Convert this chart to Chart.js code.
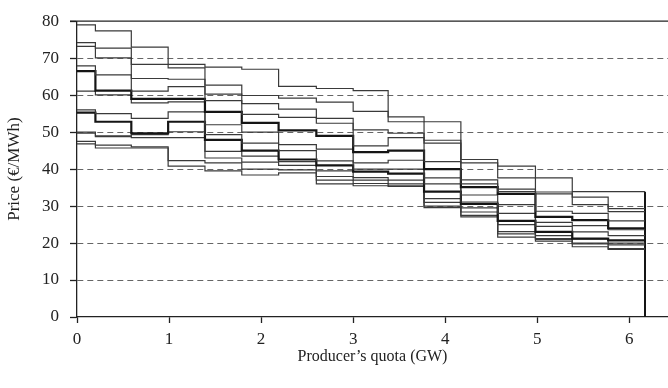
<!DOCTYPE html>
<html>
<head>
<meta charset="utf-8">
<script src="https://cdn.jsdelivr.net/npm/chart.js@4.4.1/dist/chart.umd.min.js"></script>
<style>
  html, body { margin: 0; padding: 0; background: #fff; }
  #wrap { width: 668px; height: 388px; position: relative; }
</style>
</head>
<body>
<div id="wrap"><canvas id="chart"></canvas></div>
<script>
// ── data ──────────────────────────────────────────────
// quota breakpoints (GW): price level i holds from quota[i] to quota[i+1]
const quota = [0, 0.2, 0.59, 0.99, 1.39, 1.79, 2.19, 2.6, 3.0, 3.38, 3.77, 4.17, 4.57, 4.98, 5.38, 5.77, 6.17];

// price steps (€/MWh), one array per scenario
const s1  = [79.0, 77.4, 73.0, 68.3, 67.6, 67.0, 62.4, 61.8, 61.2, 54.1, 52.8, 42.6, 40.8, 37.6, 33.9, 33.9];
const s2  = [74.2, 72.7, 68.3, 67.4, 62.7, 59.9, 59.2, 58.1, 55.6, 52.8, 47.8, 41.7, 37.6, 33.8, 32.4, 29.3];
const s3  = [73.2, 70.1, 64.5, 64.3, 60.3, 57.7, 56.2, 53.7, 50.6, 49.7, 47.0, 37.1, 34.6, 33.3, 30.4, 28.5];
const s4  = [67.9, 65.5, 61.1, 62.3, 58.5, 54.8, 54.0, 52.4, 46.3, 48.5, 42.0, 36.0, 33.9, 28.6, 28.0, 26.0];
const s5  = [66.5, 61.2, 59.0, 59.0, 55.5, 52.5, 50.5, 49.0, 44.6, 45.0, 40.0, 35.1, 33.3, 27.1, 26.2, 24.0];
const s6  = [61.1, 60.1, 57.9, 58.2, 52.0, 50.0, 46.6, 45.4, 41.7, 42.4, 37.6, 33.0, 30.4, 25.6, 24.7, 23.6];
const s7  = [56.0, 55.0, 53.7, 55.5, 49.3, 47.0, 45.0, 42.2, 40.0, 40.0, 36.0, 31.1, 28.0, 24.5, 23.0, 22.0];
const s8  = [55.3, 52.8, 49.7, 52.8, 47.9, 45.0, 42.6, 41.0, 39.3, 38.8, 33.9, 30.6, 26.0, 23.0, 21.2, 20.7];
const s9  = [50.0, 49.0, 49.3, 50.1, 44.8, 43.5, 42.0, 39.5, 37.7, 37.0, 32.0, 29.5, 25.0, 22.0, 21.1, 20.0];
const s10 = [49.7, 48.8, 48.5, 48.5, 43.0, 41.9, 41.0, 38.0, 37.0, 36.0, 31.0, 28.4, 23.1, 21.2, 20.0, 19.5];
const s11 = [47.5, 46.5, 46.0, 42.3, 41.7, 40.0, 39.8, 37.0, 36.1, 35.5, 30.0, 27.5, 22.5, 21.0, 19.8, 18.5];
const s12 = [46.8, 45.7, 45.7, 40.8, 39.5, 38.4, 39.0, 36.0, 35.5, 35.3, 29.6, 27.1, 21.6, 20.5, 19.0, 18.3];

const scenarios = [s1, s2, s3, s4, s5, s6, s7, s8, s9, s10, s11, s12];
const boldScenarios = [4, 7];

const yTicks = [0, 10, 20, 30, 40, 50, 60, 70, 80];
const xTicks = [0, 1, 2, 3, 4, 5, 6];

// ── helpers ───────────────────────────────────────────
const serif = "'Liberation Serif', 'Times New Roman', serif";

function stepPoints(levels) {
    const pts = levels.map((v, i) => ({ x: quota[i], y: v }));
    pts.push({ x: quota[quota.length - 1], y: levels[levels.length - 1] });
    return pts;
}

const datasets = scenarios.map((s, i) => ({
    data: stepPoints(s),
    borderColor: boldScenarios.includes(i) ? '#151515' : '#3a3a3a',
    borderWidth: boldScenarios.includes(i) ? 2.2 : 1.2,
    stepped: true, pointRadius: 0, fill: false
}));

// closing vertical line at the end of the quota
const lastQ = quota[quota.length - 1];
datasets.push({
    data: [{ x: lastQ, y: Math.max(...scenarios.map(s => s[s.length - 1])) }, { x: lastQ, y: 0 }],
    borderColor: '#151515', borderWidth: 2, pointRadius: 0, fill: false
});

const topLine = {
    id: 'topLine',
    afterDraw(chart) {
        const { ctx, chartArea: a } = chart;
        ctx.save();
        ctx.strokeStyle = '#222';
        ctx.lineWidth = 1.3;
        ctx.beginPath();
        ctx.moveTo(a.left - 7, a.top);
        ctx.lineTo(a.right, a.top);
        ctx.stroke();
        ctx.restore();
    }
};

new Chart(document.getElementById('chart'), {
    type: 'line',
    data: { datasets },
    plugins: [topLine],
    options: {
        responsive: true, maintainAspectRatio: false, animation: false,
        layout: { padding: { top: 16, right: 0, left: 0, bottom: 0 } },
        plugins: { legend: { display: false }, tooltip: { enabled: false } },
        scales: {
            x: {
                type: 'linear', min: 0, max: 6.42,
                afterBuildTicks: ax => { ax.ticks = xTicks.map(v => ({ value: v })); },
                afterFit: ax => { ax.height = 71; },
                grid: { drawOnChartArea: false, drawTicks: true, tickLength: 6, tickColor: '#222', tickWidth: 1.3 },
                border: { color: '#222', width: 1.3 },
                ticks: { color: '#222', padding: 6, maxRotation: 0, font: { family: serif, size: 17 } },
                title: { display: true, text: 'Producer\u2019s quota (GW)', color: '#222', padding: { top: 0, bottom: 22 }, font: { family: serif, size: 16 } }
            },
            y: {
                type: 'linear', min: 0, max: 80,
                afterBuildTicks: ax => { ax.ticks = yTicks.map(v => ({ value: v })); },
                afterFit: ax => { ax.width = 77; },
                grid: {
                    color: c => (c.tick && (c.tick.value === 0 || c.tick.value === 80)) ? 'rgba(0,0,0,0)' : '#666',
                    lineWidth: 1, drawTicks: true, tickLength: 7, tickColor: '#222', tickWidth: 1.3, tickBorderDash: []
                },
                border: { color: '#222', width: 1.3, dash: [6, 4] },
                ticks: { color: '#222', padding: 11, font: { family: serif, size: 17 } },
                title: { display: true, text: 'Price (\u20AC/MWh)', color: '#222', padding: { top: 4, bottom: 0 }, font: { family: serif, size: 17 } }
            }
        }
    }
});
</script>
</body>
</html>
